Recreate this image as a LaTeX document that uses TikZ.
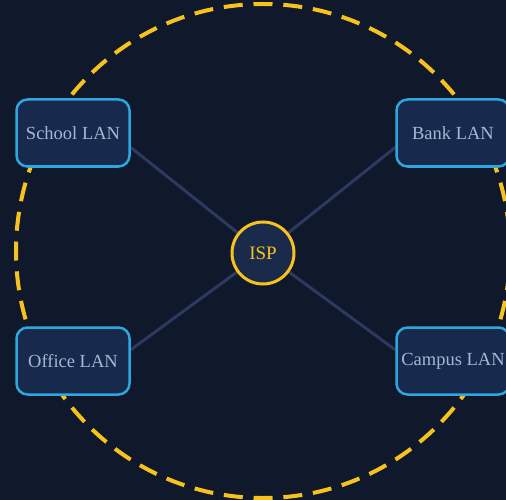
\documentclass[tikz,border=0pt]{standalone}
\usepackage{fontspec}
\setmainfont{Liberation Serif}
\definecolor{bgnavy}{HTML}{0F192B}
\definecolor{boxfill}{HTML}{17294C}
\definecolor{boxedge}{HTML}{2EA6DE}
\definecolor{lantext}{HTML}{A7B6D4}
\definecolor{ispgold}{HTML}{F7C21E}
\definecolor{ispfill}{HTML}{1A2A4A}
\definecolor{linkline}{HTML}{2B3A5E}
\pgfdeclarelayer{links}
\pgfsetlayers{links,main}
\tikzset{
  lanbox/.style={draw=boxedge, line width=2.5pt, fill=boxfill, rounded corners=11pt,
    minimum width=113pt, minimum height=67pt, inner sep=0pt,
    text=lantext, font=\fontsize{18.5}{20}\selectfont},
  hub/.style={circle, draw=ispgold, line width=3pt, fill=ispfill, minimum size=62pt,
    inner sep=0pt, text=ispgold, font=\fontsize{19}{21}\selectfont},
  link/.style={draw=linkline, line width=3pt},
  ring/.style={draw=ispgold, line width=4pt, dash pattern=on 19pt off 10.85pt, dash phase=9.5pt}
}
\begin{document}
\begin{tikzpicture}[x=1pt, y=-1pt]
  \useasboundingbox (0,0) rectangle (506,500);
  \clip (0,0) rectangle (506,500);
  \begin{pgfonlayer}{links}
    \fill[bgnavy] (0,0) rectangle (506,500);
  \end{pgfonlayer}

  % dashed boundary of the network
  \draw[ring] (263,251) circle[radius=247pt];

  % hub and the four LANs
  \node[hub] (isp) at (263,253) {ISP};
  \node[lanbox] (school) at (73,133) {School LAN};
  \node[lanbox] (bank) at (453,133) {Bank LAN};
  \node[lanbox] (office) at (73,361) {Office LAN};
  \node[lanbox] (campus) at (453,361) {Campus LAN};

  % links from the hub to each LAN, kept beneath the nodes
  \begin{pgfonlayer}{links}
    \draw[link] (isp.center) -- (school.-14);
    \draw[link] (isp.center) -- (bank.194);
    \draw[link] (isp.center) -- (office.11);
    \draw[link] (isp.center) -- (campus.169);
  \end{pgfonlayer}
\end{tikzpicture}
\end{document}
